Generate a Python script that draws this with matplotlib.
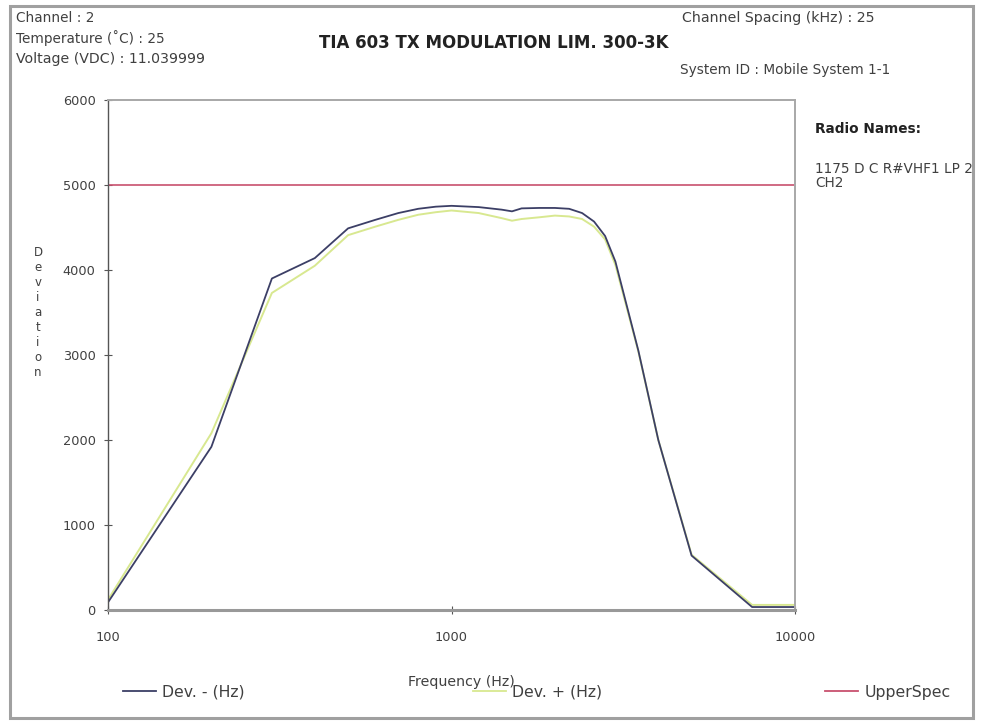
import matplotlib
matplotlib.use("Agg")
import matplotlib.pyplot as plt
from matplotlib.lines import Line2D
from matplotlib.patches import Rectangle

plt.rcParams['font.family'] = ['DejaVu Sans']

freq = [100, 200, 300, 400, 500, 600, 700, 800, 900, 1000, 1200, 1400, 1500,
        1600, 1800, 2000, 2200, 2400, 2600, 2800, 3000, 3500, 4000, 5000, 7500, 10000]
dev_minus = [90, 1920, 3900, 4140, 4490, 4590, 4670, 4720, 4745, 4755, 4740, 4710, 4690,
             4725, 4730, 4730, 4720, 4670, 4570, 4400, 4100, 3050, 2000, 640, 35, 35]
dev_plus = [120, 2080, 3730, 4050, 4410, 4510, 4590, 4650, 4680, 4700, 4670, 4610, 4580,
            4600, 4620, 4640, 4630, 4600, 4510, 4360, 4060, 3040, 2000, 650, 60, 60]
upper_spec = 5000

yticks = [0, 1000, 2000, 3000, 4000, 5000, 6000]
xticks = [100, 1000, 10000]

text_col = '#404040'
fs = 9.8

fig = plt.figure(figsize=(9.91, 7.25), dpi=100)
fig.patch.set_facecolor('white')

# outer chart border
fig.add_artist(Rectangle((10 / 991, 1 - 718 / 725), 963 / 991, 712 / 725,
                         transform=fig.transFigure, fill=False,
                         edgecolor='#a0a0a0', linewidth=2.2))

ax = fig.add_axes([108 / 991, 1 - 610 / 725, (795 - 108) / 991, (610 - 100) / 725])
ax.plot(freq, dev_plus, color='#d8e890', linewidth=1.4, label='Dev. + (Hz)')
ax.plot(freq, dev_minus, color='#3c3f66', linewidth=1.3, label='Dev. - (Hz)')
ax.axhline(upper_spec, color='#c8506e', linewidth=1.2, label='UpperSpec')

ax.set_xscale('log')
ax.set_xlim(100, 10000)
ax.set_ylim(0, 6000)
ax.set_xticks(xticks)
ax.set_xticklabels([str(v) for v in xticks])
ax.minorticks_off()
ax.set_yticks(yticks)
ax.set_yticklabels([str(v) for v in yticks])
ax.tick_params(axis='both', direction='inout', length=6, width=0.8,
               color='#555555', labelsize=9.3, labelcolor=text_col)
ax.tick_params(axis='y', pad=6)
ax.tick_params(axis='x', pad=12)

ax.spines['left'].set_color('#555555')
ax.spines['left'].set_linewidth(1.0)
ax.spines['bottom'].set_color('#999999')
ax.spines['bottom'].set_linewidth(2.2)
ax.spines['top'].set_color('#a8a8a8')
ax.spines['top'].set_linewidth(1.4)
ax.spines['right'].set_color('#a8a8a8')
ax.spines['right'].set_linewidth(1.4)

# header texts
fig.text(16 / 991, 1 - 18 / 725, 'Channel : 2', fontsize=fs, color=text_col, va='center')
fig.text(16 / 991, 1 - 38 / 725, 'Temperature (\u02daC) : 25', fontsize=fs, color=text_col, va='center')
fig.text(16 / 991, 1 - 59 / 725, 'Voltage (VDC) : 11.039999', fontsize=10.2, color=text_col, va='center')
fig.text(494 / 991, 1 - 43 / 725, 'TIA 603 TX MODULATION LIM. 300-3K', fontsize=12,
         fontweight='bold', color='#222222', ha='center', va='center')
fig.text(682 / 991, 1 - 18 / 725, 'Channel Spacing (kHz) : 25', fontsize=10.2, color=text_col, va='center')
fig.text(680 / 991, 1 - 70 / 725, 'System ID : Mobile System 1-1', fontsize=fs, color=text_col, va='center')

fig.text(815 / 991, 1 - 129 / 725, 'Radio Names:', fontsize=fs, fontweight='bold',
         color='#222222', va='center')
fig.text(815 / 991, 1 - 176 / 725, '1175 D C R#VHF1 LP 2\nCH2', fontsize=fs,
         color=text_col, va='center', linespacing=1.0)

# stacked y label
fig.text(38 / 991, 1 - 312 / 725, '\n'.join('Deviation'), fontsize=8.5, color=text_col,
         ha='center', va='center', linespacing=1.2)

fig.text(461 / 991, 1 - 682 / 725, 'Frequency (Hz)', fontsize=10.2, color=text_col,
         ha='center', va='center')

# legend entries spread along the bottom
handles, labels = ax.get_legend_handles_labels()
by_label = dict(zip(labels, handles))
legend_pos = [('Dev. - (Hz)', 123), ('Dev. + (Hz)', 473), ('UpperSpec', 825)]
for name, xpix in legend_pos:
    h = by_label[name]
    leg = fig.legend([Line2D([], [], color=h.get_color(), linewidth=1.3)], [name],
                     loc='center left', bbox_to_anchor=(xpix / 991, 1 - 692 / 725),
                     frameon=False, fontsize=11.3, handlelength=2.1, handletextpad=0.4,
                     borderpad=0, borderaxespad=0)
    for t in leg.get_texts():
        t.set_color(text_col)

fig.savefig('out.png', dpi=100, facecolor='white')
